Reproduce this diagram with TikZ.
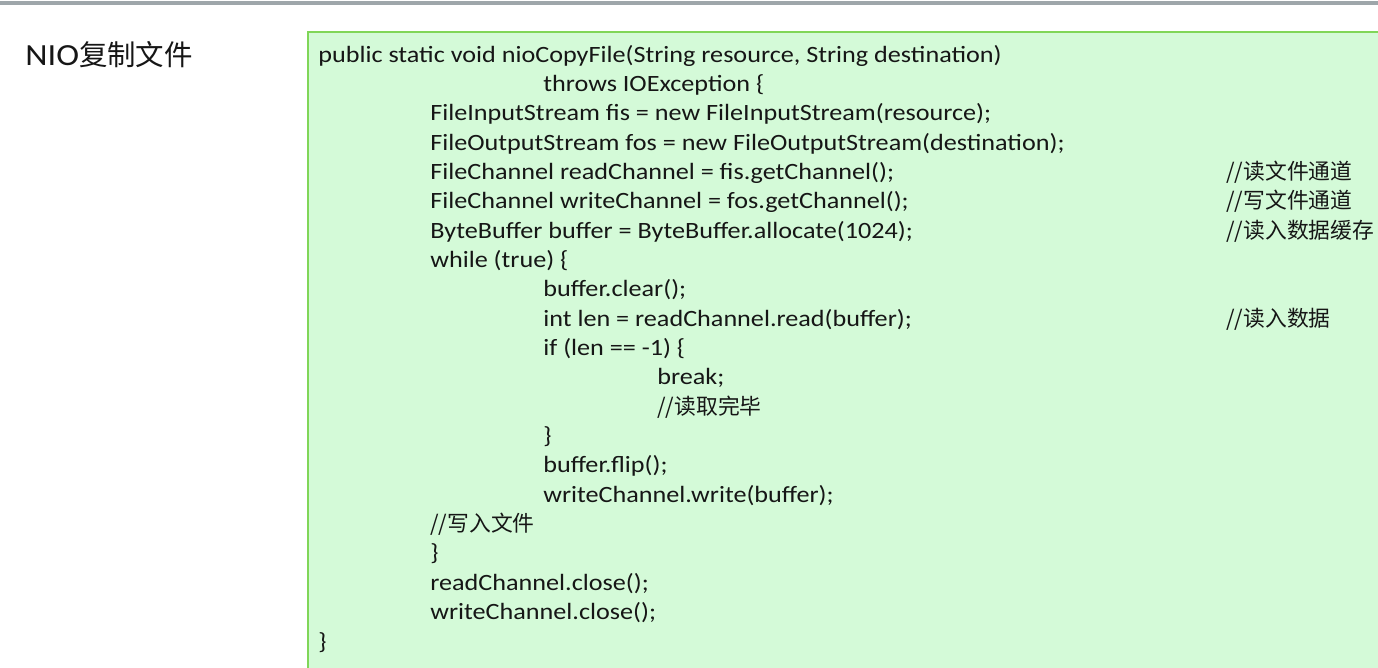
\documentclass[tikz,border=0pt]{standalone}
\usepackage{fontspec}
\setmainfont{Carlito}[FakeStretch=1.12]
\newfontfamily\cjk{Noto Sans CJK SC}
\definecolor{rulegray}{RGB}{158,166,170}
\definecolor{codefill}{RGB}{212,250,216}
\definecolor{codeedge}{RGB}{128,214,88}
\definecolor{ink}{RGB}{22,22,22}
\newcommand\cmt[1]{{\cjk\fontsize{12.4}{15}\selectfont //#1}}
\tikzset{
  codeline/.style={anchor=base west,inner sep=0pt,text=ink,font=\fontsize{13.3}{15}\selectfont},
  titletext/.style={anchor=base west,inner sep=0pt,text=ink,font=\fontsize{17.5}{20}\selectfont}
}
\begin{document}
\begin{tikzpicture}[x=0.02cm,y=-0.02cm]
      \useasboundingbox (0,0) rectangle (1378,667);
      \clip (0,0) rectangle (1378,667);
      \fill[white](0,0) rectangle (1378,667);
      \draw[rulegray,line width=2.2pt](0,3)--(1378,3);
      % title
      \node[titletext](title) at (25,65) {NIO{\cjk\fontsize{16.2}{20}\selectfont 复制文件}};
      % code box
      \coordinate(boxtl)at(308,32);\coordinate(boxbr)at(1390,680);
      \filldraw[fill=codefill,draw=codeedge,line width=1.6pt](boxtl) rectangle (boxbr);
      \foreach \n/\x/\t in{1/318/{public static void nioCopyFile(String resource, String destination)},
        2/543/{throws IOException \{}, 3/430/{FileInputStream fis = new FileInputStream(resource);},
        4/430/{FileOutputStream fos = new FileOutputStream(destination);},
        5/430/{FileChannel readChannel = fis.getChannel();}, 6/430/{FileChannel writeChannel = fos.getChannel();},
        7/430/{ByteBuffer buffer = ByteBuffer.allocate(1024);}, 8/430/{while (true) \{},
        9/543/{buffer.clear();}, 10/543/{int len = readChannel.read(buffer);}, 11/543/{if (len == -1) \{},
        12/657/{break;}, 13/657/{\cmt{读取完毕}}, 14/543/{\}}, 15/543/{buffer.flip();},
        16/543/{writeChannel.write(buffer);}, 17/430/{\cmt{写入文件}}, 18/430/{\}},
        19/430/{readChannel.close();}, 20/430/{writeChannel.close();}, 21/318/{\}}}{
        \node[codeline](l\n) at (\x,{62+29.35*(\n-1)}) {\t};
      }
      % comments column
      \foreach \n/\t in{5/读文件通道, 6/写文件通道, 7/读入数据缓存, 10/读入数据}{
        \node[codeline](c\n) at (1226,{62+29.35*(\n-1)}) {\cmt{\t}};
      }
    \end{tikzpicture}
\end{document}
